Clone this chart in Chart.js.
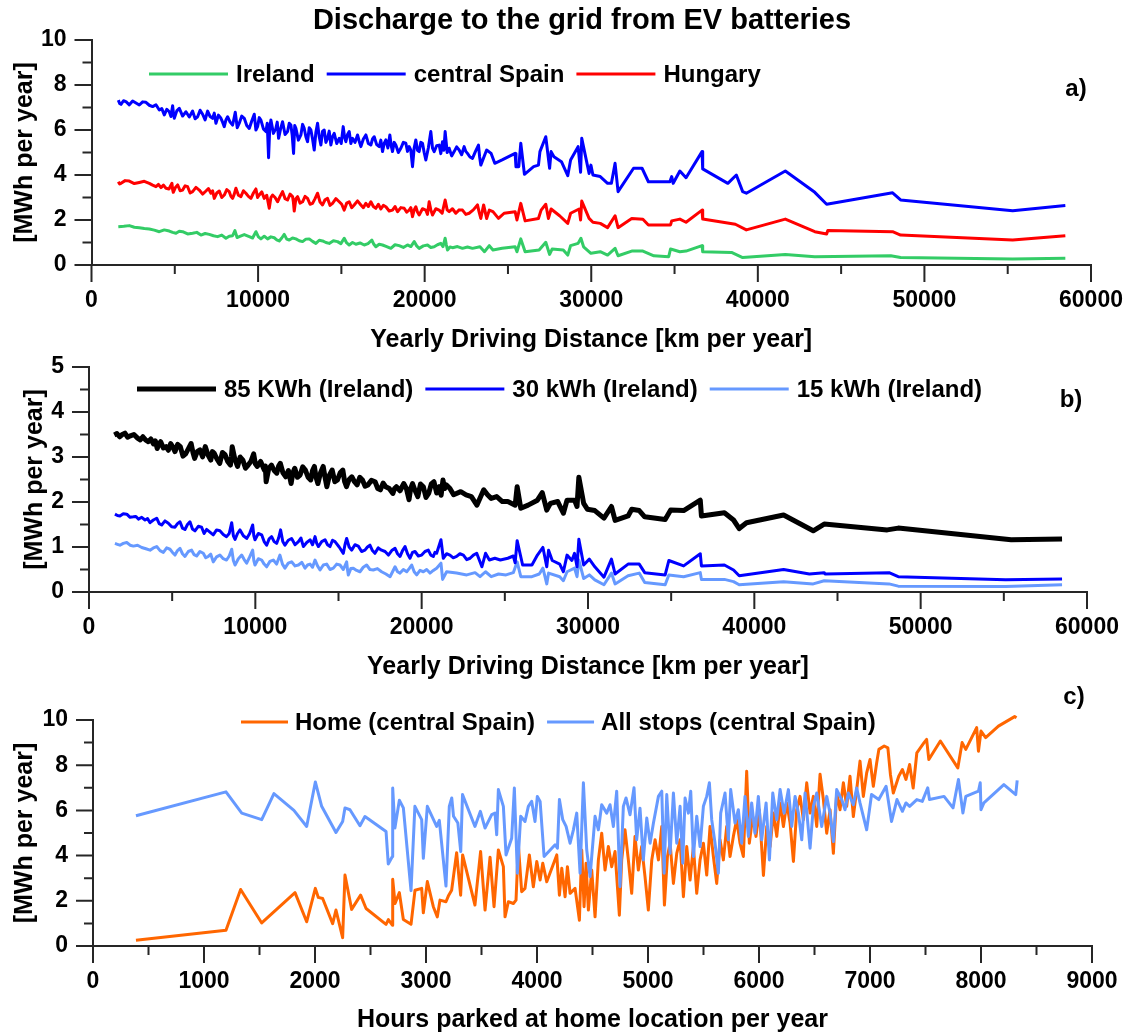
<!DOCTYPE html>
<html>
<head>
<meta charset="utf-8">
<title>Discharge to the grid from EV batteries</title>
<script src="https://cdn.jsdelivr.net/npm/chart.js@4.4.1/dist/chart.umd.min.js"></script>
<style>
  body { margin: 0; background: #fff; }
  #wrap { position: relative; width: 1128px; height: 1035px; overflow: hidden; }
  canvas { position: absolute; left: 0; }
</style>
</head>
<body>
<div id="wrap">
  <canvas id="panelA" width="1128" height="360" style="top:0px"></canvas>
  <canvas id="panelB" width="1128" height="345" style="top:345px"></canvas>
  <canvas id="panelC" width="1128" height="355" style="top:680px"></canvas>
</div>
<script>
// ---------- data ----------
const TITLE = "Discharge to the grid from EV batteries";
const DIST_TICKS  = [0, 10000, 20000, 30000, 40000, 50000, 60000];
const HOURS_TICKS = [0, 1000, 2000, 3000, 4000, 5000, 6000, 7000, 8000, 9000];
const MWH10_TICKS = [0, 2, 4, 6, 8, 10];
const MWH5_TICKS  = [0, 1, 2, 3, 4, 5];

// panel a) — [km per year, MWh per year]
const irelandA = [[1610,1.70],[1940,1.72],[2270,1.75],[2570,1.68],[2870,1.66],[3170,1.62],[3470,1.60],[3770,1.55],[4070,1.48],[4370,1.56],[4670,1.51],[4870,1.45],[5070,1.41],[5270,1.50],[5470,1.48],[5770,1.38],[6070,1.41],[6320,1.45],[6570,1.33],[6820,1.40],[7070,1.36],[7320,1.30],[7570,1.26],[7820,1.33],[8070,1.19],[8270,1.28],[8470,1.30],[8610,1.53],[8740,1.22],[8870,1.26],[9170,1.35],[9470,1.26],[9670,1.20],[9870,1.48],[10020,1.25],[10170,1.16],[10370,1.28],[10570,1.16],[10770,1.25],[10970,1.21],[11120,1.12],[11270,1.07],[11420,1.20],[11570,1.36],[11720,1.15],[11870,1.11],[12070,1.20],[12270,1.16],[12470,1.08],[12670,1.04],[12870,1.15],[13070,1.16],[13270,1.05],[13470,0.96],[13670,1.10],[13870,1.07],[14070,1.00],[14270,0.96],[14520,1.08],[14770,1.04],[14970,0.95],[15170,1.19],[15320,0.98],[15470,0.89],[15670,1.00],[15870,0.92],[16120,0.98],[16370,0.89],[16600,0.95],[16830,1.11],[16950,0.92],[17070,0.81],[17270,0.92],[17470,0.89],[17720,0.82],[17970,0.74],[18220,0.90],[18470,0.86],[18720,0.78],[18970,0.89],[19170,0.82],[19370,1.04],[19520,0.85],[19670,0.74],[19920,0.85],[20170,0.89],[20370,0.78],[20570,0.81],[20770,0.90],[20970,0.96],[21100,0.82],[21230,1.19],[21300,0.90],[21370,0.67],[21520,0.80],[21670,0.77],[21970,0.82],[22270,0.74],[22570,0.80],[22870,0.74],[23320,0.81],[23590,0.59],[23880,0.86],[24100,0.67],[24650,0.74],[25430,0.81],[25540,0.59],[25770,1.16],[26030,0.59],[26870,0.67],[27270,1.01],[27500,0.47],[27650,0.71],[28320,0.67],[28590,0.44],[28760,0.86],[29210,0.96],[29380,1.19],[29540,0.81],[29980,0.52],[30540,0.59],[30980,0.44],[31430,0.74],[31610,0.41],[32430,0.62],[33100,0.62],[33760,0.41],[34650,0.37],[34760,0.71],[35320,0.59],[35690,0.62],[36650,0.86],[36690,0.59],[38420,0.56],[39090,0.33],[41650,0.47],[43420,0.37],[47980,0.41],[48570,0.33],[55300,0.27],[58460,0.30]];

const spainA = [[1610,7.33],[1690,7.18],[1770,7.14],[1920,7.30],[2070,7.26],[2270,7.12],[2470,7.29],[2670,7.20],[2870,7.11],[3070,7.25],[3270,7.23],[3470,7.10],[3670,7.04],[3870,7.12],[4070,6.89],[4220,6.95],[4370,6.67],[4520,6.92],[4670,6.81],[4770,6.60],[4870,7.08],[4920,6.75],[4970,6.52],[5120,6.85],[5270,6.96],[5470,6.62],[5670,6.81],[5870,6.58],[6070,6.84],[6220,6.50],[6370,6.59],[6520,6.88],[6670,6.70],[6820,6.45],[6970,6.84],[7120,6.60],[7270,6.52],[7370,6.75],[7470,6.30],[7620,6.66],[7770,6.52],[7870,6.35],[7970,6.15],[8070,6.45],[8170,6.59],[8320,6.35],[8470,6.22],[8550,6.50],[8630,6.79],[8750,6.10],[8870,6.30],[9020,6.62],[9170,6.52],[9320,6.20],[9470,6.07],[9620,6.40],[9770,6.70],[9870,6.00],[9970,6.15],[10070,6.55],[10170,6.44],[10320,6.05],[10470,5.93],[10550,6.30],[10630,4.77],[10700,6.10],[10770,6.44],[10920,5.85],[11070,6.07],[11150,6.35],[11230,5.63],[11350,6.05],[11470,6.37],[11620,5.80],[11770,5.93],[11870,6.30],[11970,6.22],[12050,5.75],[12130,4.96],[12200,6.20],[12270,6.07],[12420,5.55],[12570,5.78],[12670,6.25],[12770,6.07],[12870,5.70],[12970,5.48],[13070,6.10],[13170,6.00],[13270,5.60],[13370,5.11],[13470,5.90],[13570,6.30],[13670,5.70],[13770,5.33],[13870,5.95],[13970,6.00],[14070,5.45],[14170,5.63],[14270,5.95],[14370,5.33],[14470,5.70],[14570,5.85],[14720,5.40],[14870,5.63],[14990,5.40],[15110,6.15],[15190,5.70],[15270,5.48],[15370,5.80],[15470,5.93],[15570,5.40],[15670,5.63],[15820,5.45],[15970,5.78],[16070,5.50],[16170,5.26],[16320,5.60],[16470,5.78],[16620,5.40],[16770,5.33],[16870,5.60],[16970,5.70],[17120,5.35],[17270,5.26],[17370,5.55],[17470,5.04],[17570,5.40],[17670,5.56],[17790,5.20],[17910,5.78],[17990,5.30],[18070,5.04],[18170,5.45],[18270,5.33],[18420,5.00],[18570,5.19],[18720,5.45],[18870,5.41],[18970,5.05],[19070,5.26],[19170,5.10],[19270,4.37],[19370,5.20],[19470,5.56],[19570,5.10],[19670,5.04],[19770,5.45],[19870,5.41],[19970,5.00],[20070,4.67],[20220,5.20],[20370,5.93],[20470,5.20],[20570,5.04],[20720,5.30],[20870,5.33],[20970,4.95],[21070,5.48],[21150,5.10],[21230,5.93],[21350,5.00],[21470,5.19],[21620,4.85],[21770,5.04],[21920,5.25],[22070,5.11],[22220,4.90],[22370,5.26],[22470,5.05],[22570,4.96],[22720,4.80],[22870,4.74],[23050,5.05],[23230,5.33],[23300,4.80],[23370,4.44],[23720,5.11],[23990,4.96],[24210,4.52],[24650,4.67],[25430,4.96],[25480,4.37],[25650,4.37],[25770,5.41],[25990,4.03],[26540,4.37],[26830,4.44],[26920,5.04],[27270,5.70],[27500,4.30],[27590,5.04],[27760,4.81],[28210,4.59],[28590,3.97],[28760,4.67],[29210,5.26],[29360,4.12],[29430,5.63],[29870,4.07],[29980,4.44],[30100,4.00],[30540,3.93],[30980,3.63],[31210,3.63],[31430,4.52],[31610,3.26],[32540,4.30],[33050,4.30],[33430,3.70],[34720,3.70],[34830,3.93],[34920,3.63],[35320,4.18],[35690,3.88],[36650,5.04],[36690,4.27],[38200,3.63],[38710,4.00],[39090,3.26],[39310,3.19],[41650,4.18],[43420,3.23],[44130,2.70],[48090,3.21],[48570,2.89],[55300,2.41],[58460,2.64]];

const hungaryA = [[1610,3.70],[1690,3.60],[1770,3.63],[2020,3.75],[2270,3.73],[2570,3.62],[2870,3.67],[3170,3.72],[3470,3.63],[3670,3.55],[3870,3.48],[4020,3.58],[4170,3.44],[4320,3.55],[4470,3.41],[4650,3.38],[4830,3.63],[4870,3.35],[4910,3.23],[5040,3.45],[5170,3.56],[5320,3.30],[5470,3.33],[5620,3.52],[5770,3.48],[5920,3.20],[6070,3.26],[6270,3.45],[6470,3.33],[6670,3.15],[6870,3.29],[7020,3.40],[7170,3.19],[7270,3.30],[7370,2.96],[7520,3.20],[7670,3.29],[7820,3.00],[7970,3.11],[8120,3.35],[8270,3.26],[8370,3.05],[8470,2.96],[8570,3.15],[8670,3.41],[8820,3.10],[8970,3.04],[9120,3.30],[9270,3.19],[9420,3.05],[9570,2.96],[9720,3.20],[9870,3.38],[9970,3.00],[10070,3.11],[10220,3.25],[10370,2.96],[10520,3.10],[10670,2.52],[10770,3.00],[10870,3.11],[11020,3.00],[11170,2.81],[11320,3.05],[11470,3.26],[11620,2.95],[11770,2.89],[11920,3.15],[12070,3.04],[12120,2.80],[12170,2.40],[12270,2.95],[12370,3.04],[12520,2.75],[12670,2.81],[12820,3.05],[12970,2.96],[13120,2.70],[13270,2.74],[13420,2.95],[13570,3.19],[13720,2.80],[13870,2.67],[14020,2.90],[14170,2.96],[14320,2.65],[14470,2.74],[14670,2.95],[14870,2.81],[15020,2.70],[15170,2.44],[15320,2.75],[15470,2.81],[15620,2.55],[15770,2.67],[15970,2.85],[16170,2.67],[16320,2.55],[16470,2.74],[16620,2.60],[16770,2.81],[16920,2.60],[17070,2.52],[17220,2.70],[17370,2.49],[17520,2.65],[17670,2.59],[17870,2.40],[18070,2.44],[18220,2.60],[18370,2.37],[18570,2.55],[18770,2.52],[18920,2.35],[19070,2.44],[19170,2.55],[19270,2.15],[19370,2.45],[19470,2.59],[19570,2.35],[19670,2.22],[19870,2.50],[20070,2.44],[20170,2.25],[20270,2.81],[20370,2.45],[20470,2.22],[20670,2.50],[20870,2.44],[21050,2.30],[21230,2.89],[21350,2.45],[21470,2.37],[21670,2.50],[21870,2.30],[22070,2.45],[22270,2.44],[22470,2.25],[22670,2.30],[22920,2.45],[23170,2.67],[23270,2.35],[23370,2.07],[23540,2.67],[23720,2.07],[23880,2.44],[24100,2.37],[24430,2.07],[24770,2.30],[25430,2.37],[25540,2.00],[25770,2.74],[26030,1.96],[26830,2.07],[26990,2.44],[27270,2.70],[27430,2.07],[27590,2.49],[28100,2.19],[28590,1.85],[28760,2.30],[29270,2.49],[29360,2.00],[29430,2.84],[29870,2.07],[30100,1.90],[30540,1.85],[30980,1.66],[31430,2.19],[31610,1.66],[32430,2.07],[33100,2.03],[33430,1.78],[34760,1.78],[34830,1.96],[35320,2.04],[35690,1.90],[36650,2.44],[36690,2.04],[38650,1.81],[39310,1.56],[41650,2.04],[43420,1.48],[44130,1.38],[44200,1.53],[48090,1.48],[48570,1.33],[55300,1.11],[58460,1.30]];

// panel b) — battery sizes, Ireland
const kwh85B = [[1520,3.49],[1680,3.52],[1840,3.45],[2000,3.50],[2160,3.53],[2320,3.44],[2490,3.47],[2700,3.50],[2920,3.42],[3080,3.38],[3240,3.45],[3400,3.38],[3560,3.34],[3720,3.40],[3880,3.29],[3990,3.36],[4100,3.19],[4200,3.28],[4310,3.34],[4470,3.20],[4630,3.23],[4770,3.15],[4910,3.30],[5040,3.22],[5170,3.12],[5330,3.28],[5490,3.23],[5650,3.02],[5810,3.07],[5970,3.18],[6140,3.30],[6250,3.10],[6350,2.97],[6510,3.12],[6670,3.16],[6830,3.00],[6990,3.23],[7150,3.05],[7320,2.93],[7420,3.12],[7530,3.08],[7700,2.95],[7860,2.86],[8020,3.10],[8180,3.05],[8340,2.90],[8500,2.82],[8560,3.00],[8610,3.23],[8770,2.95],[8930,2.79],[9090,3.00],[9250,2.93],[9410,2.75],[9570,2.82],[9730,2.90],[9900,3.07],[10000,2.85],[10110,2.79],[10320,2.90],[10540,2.71],[10600,2.80],[10650,2.45],[10810,2.75],[10970,2.82],[11130,2.70],[11290,2.64],[11400,2.80],[11500,2.86],[11660,2.65],[11830,2.56],[11990,2.70],[12150,2.41],[12260,2.65],[12370,2.75],[12530,2.55],[12690,2.60],[12850,2.78],[13010,2.71],[13170,2.55],[13330,2.49],[13440,2.70],[13550,2.79],[13650,2.55],[13760,2.41],[13920,2.65],[14080,2.79],[14190,2.55],[14300,2.34],[14460,2.60],[14620,2.71],[14780,2.45],[14940,2.49],[15100,2.65],[15260,2.71],[15370,2.45],[15480,2.34],[15640,2.50],[15800,2.56],[15960,2.45],[16120,2.38],[16280,2.55],[16440,2.49],[16600,2.35],[16770,2.38],[16980,2.48],[17200,2.45],[17360,2.30],[17520,2.27],[17680,2.42],[17840,2.34],[18050,2.30],[18270,2.19],[18370,2.30],[18480,2.34],[18700,2.25],[18920,2.41],[19080,2.30],[19240,2.05],[19340,2.30],[19450,2.41],[19610,2.25],[19770,2.12],[19930,2.40],[20100,2.34],[20260,2.10],[20420,2.19],[20580,2.40],[20740,2.45],[20900,2.20],[21060,2.34],[21170,2.15],[21280,2.49],[21380,2.30],[21490,2.38],[21700,2.30],[21920,2.16],[22350,2.23],[22670,2.16],[22990,2.12],[23320,1.93],[23730,2.27],[23960,2.16],[24180,2.08],[24510,2.12],[24850,2.01],[25180,2.01],[25620,1.93],[25740,2.34],[25960,1.86],[26400,1.93],[26960,2.04],[27250,2.21],[27520,1.82],[27740,1.97],[28180,2.01],[28520,1.75],[28740,2.04],[29190,2.04],[29340,1.90],[29450,2.55],[29740,1.97],[29960,1.84],[30410,1.81],[30960,1.64],[31410,1.90],[31630,1.59],[32410,1.69],[32630,1.84],[33080,1.81],[33410,1.67],[34640,1.61],[34970,1.82],[35750,1.81],[36750,2.04],[36820,1.69],[38200,1.76],[38750,1.60],[39090,1.41],[39530,1.54],[41760,1.71],[43540,1.36],[44200,1.51],[47990,1.38],[48650,1.42],[55440,1.16],[58500,1.18]];

const kwh30B = [[1560,1.73],[1710,1.70],[1860,1.69],[2060,1.74],[2270,1.73],[2470,1.66],[2670,1.67],[2820,1.68],[2970,1.62],[3170,1.66],[3370,1.60],[3520,1.63],[3670,1.54],[3870,1.60],[4070,1.64],[4220,1.52],[4370,1.49],[4570,1.58],[4770,1.53],[4970,1.45],[5170,1.44],[5320,1.52],[5470,1.56],[5620,1.42],[5770,1.39],[5920,1.50],[6070,1.56],[6220,1.40],[6370,1.36],[6570,1.46],[6770,1.44],[6920,1.30],[7070,1.39],[7270,1.33],[7470,1.27],[7670,1.38],[7870,1.36],[8070,1.28],[8270,1.23],[8430,1.30],[8580,1.54],[8680,1.25],[8780,1.17],[8930,1.30],[9080,1.38],[9280,1.25],[9480,1.19],[9660,1.30],[9840,1.49],[9910,1.25],[9980,1.16],[10180,1.30],[10380,1.27],[10530,1.12],[10680,1.04],[10830,1.18],[10980,1.23],[11130,1.12],[11280,1.08],[11400,1.20],[11520,1.38],[11650,1.12],[11780,1.04],[11980,1.15],[12180,1.19],[12390,1.05],[12590,1.12],[12740,1.20],[12890,1.01],[13090,1.10],[13290,1.16],[13440,1.05],[13590,1.23],[13690,1.08],[13790,1.01],[13990,1.12],[14190,1.16],[14340,1.05],[14490,1.01],[14640,1.15],[14790,1.12],[15040,1.00],[15290,0.86],[15390,1.05],[15490,1.19],[15640,1.00],[15790,0.93],[15990,1.05],[16190,1.02],[16390,0.90],[16590,0.93],[16740,1.00],[16890,1.04],[17040,0.92],[17190,0.86],[17390,0.98],[17590,0.93],[17800,0.90],[18000,0.82],[18200,0.92],[18400,0.97],[18550,0.85],[18700,0.79],[18850,0.92],[19000,1.01],[19150,0.85],[19300,0.75],[19450,0.88],[19600,0.90],[19800,0.80],[20000,0.82],[20200,0.90],[20400,0.93],[20550,0.82],[20700,0.79],[20800,0.88],[20900,0.86],[21160,1.16],[21300,0.75],[21500,0.85],[21700,0.82],[21900,0.76],[22100,0.79],[22300,0.85],[22510,0.82],[22710,0.72],[22910,0.75],[23110,0.82],[23310,0.86],[23620,0.56],[23840,0.86],[24070,0.71],[24400,0.75],[24730,0.71],[25180,0.75],[25510,0.80],[25620,0.65],[25740,1.14],[26070,0.60],[26630,0.60],[26960,0.82],[27290,0.99],[27520,0.56],[27630,0.93],[27850,0.70],[28300,0.62],[28520,0.45],[28740,0.82],[29030,0.70],[29190,0.86],[29340,0.56],[29450,1.17],[29740,0.60],[30080,0.73],[30410,0.56],[30960,0.33],[31410,0.73],[31630,0.40],[32410,0.62],[33080,0.62],[33410,0.43],[34640,0.38],[34860,0.70],[35750,0.58],[36750,0.85],[36820,0.58],[38200,0.60],[38750,0.49],[39090,0.36],[41760,0.50],[43310,0.40],[44200,0.43],[44250,0.40],[48100,0.43],[48650,0.34],[55110,0.27],[58500,0.29]];

const kwh15B = [[1560,1.08],[1710,1.06],[1860,1.04],[2060,1.08],[2270,1.10],[2470,1.04],[2670,1.02],[2920,1.04],[3170,0.99],[3420,0.96],[3670,0.93],[3870,0.98],[4070,1.01],[4270,0.92],[4470,0.88],[4670,0.98],[4870,0.95],[5020,0.88],[5170,0.82],[5320,0.92],[5470,0.97],[5620,0.85],[5770,0.79],[5970,0.90],[6170,0.93],[6320,0.83],[6470,0.80],[6670,0.90],[6870,0.86],[7020,0.76],[7170,0.79],[7320,0.84],[7470,0.67],[7670,0.78],[7870,0.82],[8070,0.74],[8270,0.71],[8430,0.80],[8580,0.95],[8680,0.70],[8780,0.60],[8980,0.74],[9180,0.82],[9330,0.72],[9480,0.64],[9660,0.78],[9840,0.93],[9910,0.70],[9980,0.60],[10180,0.74],[10380,0.71],[10530,0.62],[10680,0.56],[10880,0.68],[11080,0.71],[11280,0.62],[11480,0.82],[11630,0.62],[11780,0.53],[11980,0.64],[12180,0.67],[12390,0.58],[12590,0.60],[12790,0.66],[12990,0.53],[13140,0.60],[13290,0.62],[13440,0.55],[13590,0.71],[13740,0.58],[13890,0.49],[14090,0.60],[14290,0.62],[14490,0.50],[14690,0.53],[14890,0.62],[15090,0.60],[15290,0.50],[15490,0.67],[15540,0.50],[15590,0.38],[15740,0.52],[15890,0.53],[16090,0.48],[16290,0.45],[16490,0.55],[16690,0.60],[16890,0.50],[17090,0.49],[17340,0.52],[17590,0.45],[17850,0.40],[18100,0.34],[18250,0.45],[18400,0.56],[18550,0.45],[18700,0.42],[18900,0.50],[19100,0.45],[19250,0.52],[19400,0.60],[19550,0.45],[19700,0.38],[19900,0.48],[20100,0.45],[20300,0.50],[20500,0.42],[20700,0.48],[20900,0.53],[21160,0.64],[21260,0.28],[21500,0.45],[22100,0.42],[22710,0.38],[23210,0.43],[23510,0.34],[23840,0.45],[24180,0.34],[24620,0.40],[25070,0.38],[25510,0.43],[25740,0.67],[25960,0.34],[26630,0.34],[27070,0.40],[27290,0.53],[27520,0.18],[27630,0.42],[28300,0.34],[28520,0.25],[28740,0.45],[29190,0.53],[29340,0.34],[29450,0.71],[29740,0.30],[30080,0.38],[30410,0.27],[30960,0.16],[31410,0.42],[31630,0.18],[32410,0.36],[33080,0.42],[33410,0.21],[34640,0.16],[34860,0.38],[35750,0.34],[36750,0.43],[36820,0.28],[38200,0.28],[38750,0.23],[39090,0.16],[41760,0.23],[43540,0.18],[44200,0.25],[48100,0.18],[48650,0.13],[55110,0.12],[58500,0.16]];

// panel c) — [hours parked at home per year, MWh per year], central Spain
const homeC = [[387,0.25],[1198,0.70],[1330,2.50],[1520,1.02],[1820,2.36],[1925,1.07],[2003,2.55],[2030,2.15],[2069,2.10],[2159,0.99],[2189,1.59],[2249,0.37],[2270,3.14],[2330,1.62],[2411,2.25],[2460,1.66],[2640,0.96],[2661,1.17],[2697,0.92],[2700,2.95],[2721,1.88],[2760,2.36],[2796,1.17],[2865,0.96],[2901,2.47],[2961,2.55],[2976,1.47],[3012,2.85],[3066,1.74],[3102,1.29],[3126,2.03],[3180,1.96],[3201,2.21],[3231,2.47],[3276,4.13],[3312,2.25],[3330,4.03],[3441,1.81],[3492,4.18],[3532,1.59],[3577,3.93],[3613,1.74],[3652,4.25],[3697,3.51],[3712,1.29],[3742,1.96],[3787,1.88],[3811,2.03],[3832,4.48],[3862,2.40],[3892,2.55],[3931,4.03],[3967,2.62],[3998,3.74],[4028,2.92],[4052,3.66],[4088,2.84],[4178,4.03],[4202,2.25],[4223,3.44],[4253,2.18],[4274,3.51],[4298,2.33],[4343,2.55],[4382,1.14],[4403,4.25],[4424,1.74],[4442,3.66],[4463,1.59],[4493,3.36],[4523,1.29],[4553,3.81],[4583,4.99],[4613,3.36],[4643,4.40],[4673,3.51],[4703,4.18],[4742,1.36],[4763,3.81],[4793,5.14],[4823,3.81],[4853,2.33],[4883,4.85],[4913,3.36],[4943,4.40],[4973,3.07],[5003,1.59],[5034,3.81],[5064,4.70],[5094,3.81],[5124,5.29],[5148,1.81],[5175,3.96],[5199,4.55],[5229,2.77],[5259,4.10],[5289,4.70],[5319,2.18],[5349,4.40],[5379,2.92],[5409,4.40],[5439,2.33],[5469,3.81],[5499,4.55],[5529,3.14],[5559,5.29],[5589,3.96],[5619,2.77],[5649,4.70],[5679,3.81],[5709,5.29],[5739,3.96],[5769,4.85],[5799,5.59],[5829,4.55],[5859,3.96],[5889,7.73],[5913,4.55],[5943,5.73],[5973,4.85],[6003,6.03],[6040,3.12],[6070,5.29],[6100,4.40],[6130,5.88],[6160,4.85],[6190,6.33],[6220,5.29],[6250,6.33],[6280,5.44],[6310,3.74],[6340,6.03],[6370,6.62],[6400,5.59],[6430,7.22],[6460,5.88],[6490,6.62],[6520,5.29],[6550,7.60],[6580,6.48],[6610,4.99],[6640,6.03],[6670,4.10],[6700,6.77],[6730,6.03],[6760,7.22],[6790,6.18],[6820,7.51],[6850,5.73],[6880,6.92],[6910,8.18],[6940,6.62],[6970,7.66],[7000,8.25],[7030,7.07],[7060,8.10],[7080,8.70],[7128,8.85],[7161,8.77],[7184,7.59],[7210,6.77],[7259,7.51],[7292,7.81],[7324,7.37],[7357,8.03],[7389,6.99],[7422,8.55],[7487,9.00],[7510,9.14],[7530,8.25],[7634,9.07],[7791,7.88],[7830,9.00],[7863,8.70],[7961,9.66],[7977,8.62],[8000,9.51],[8042,9.22],[8157,9.73],[8303,10.15],[8320,10.10]];

const allStopsC = [[387,5.76],[1198,6.82],[1340,5.88],[1520,5.59],[1630,6.74],[1810,6.00],[1925,5.29],[2003,7.26],[2060,6.18],[2189,5.02],[2249,5.51],[2270,6.11],[2315,6.03],[2405,5.32],[2450,5.73],[2640,5.07],[2660,3.63],[2697,3.96],[2700,6.99],[2720,5.22],[2760,6.45],[2796,6.11],[2865,2.45],[2900,6.18],[2961,5.59],[2976,3.88],[3012,6.18],[3096,5.29],[3120,5.56],[3180,2.65],[3210,6.18],[3232,6.55],[3248,5.74],[3287,5.44],[3313,4.18],[3329,6.70],[3441,5.29],[3490,5.96],[3532,5.22],[3592,5.81],[3622,5.88],[3637,4.92],[3652,6.92],[3697,6.18],[3721,4.03],[3772,4.77],[3796,6.99],[3823,3.22],[3853,5.74],[3892,5.51],[3922,6.18],[3952,6.40],[3982,5.51],[4003,6.62],[4028,6.40],[4064,3.96],[4163,4.48],[4184,4.33],[4202,6.48],[4232,5.59],[4262,5.29],[4298,4.55],[4328,5.14],[4358,5.88],[4388,3.22],[4418,7.22],[4448,4.25],[4478,3.07],[4523,5.74],[4553,5.14],[4583,6.25],[4628,5.88],[4658,6.25],[4688,5.29],[4718,6.85],[4748,2.62],[4778,6.18],[4802,6.55],[4838,5.81],[4874,7.00],[4898,4.70],[4928,6.10],[4958,3.81],[4989,5.66],[5019,4.55],[5049,5.44],[5094,6.62],[5124,6.85],[5145,3.22],[5169,6.70],[5199,4.10],[5229,6.77],[5259,4.55],[5289,6.18],[5313,3.66],[5334,6.55],[5364,5.88],[5385,6.85],[5409,3.96],[5439,5.74],[5469,4.40],[5499,6.18],[5529,6.62],[5553,7.22],[5574,5.59],[5604,4.55],[5634,3.22],[5655,5.88],[5694,6.77],[5724,4.70],[5745,6.92],[5784,5.44],[5814,6.03],[5844,4.55],[5874,6.62],[5904,4.85],[5934,6.33],[5964,4.99],[5994,6.62],[6024,4.70],[6064,6.33],[6094,3.81],[6124,6.77],[6160,5.59],[6190,6.92],[6226,5.88],[6265,6.92],[6295,5.29],[6325,6.62],[6355,5.88],[6385,4.70],[6415,6.77],[6460,4.33],[6490,6.18],[6520,6.77],[6565,5.29],[6610,6.62],[6640,5.88],[6670,4.62],[6700,6.92],[6745,6.48],[6775,6.03],[6805,6.77],[6850,6.25],[6880,6.99],[6910,6.33],[6970,5.14],[7014,6.70],[7079,6.48],[7145,7.07],[7194,5.51],[7243,6.48],[7292,5.96],[7324,6.33],[7357,6.18],[7422,6.48],[7471,6.40],[7520,7.00],[7536,6.48],[7667,6.62],[7748,6.11],[7797,7.37],[7837,5.88],[7863,6.62],[7977,6.85],[7993,7.22],[8000,6.03],[8026,6.33],[8206,7.14],[8313,6.70],[8326,7.33]];

// ---------- look ----------
const FONT = "'Liberation Sans', Arial, Helvetica, sans-serif";
const AXIS = "#262626";
const MAJOR = 17, MINOR = 9;

// minor/major tick marks drawn outward from the axes
const axisTicks = {
  id: "axisTicks",
  afterDraw(chart) {
    const { ctx, chartArea: a, scales: { x, y } } = chart;
    ctx.save();
    ctx.strokeStyle = AXIS;
    ctx.lineWidth = 2;
    ctx.beginPath();
    const xt = x.ticks.map(t => t.value);
    xt.forEach((v, i) => {
      const px = x.getPixelForValue(v);
      ctx.moveTo(px, a.bottom); ctx.lineTo(px, a.bottom + MAJOR);
      if (i < xt.length - 1) {
        const pm = x.getPixelForValue((v + xt[i + 1]) / 2);
        ctx.moveTo(pm, a.bottom); ctx.lineTo(pm, a.bottom + MINOR);
      }
    });
    const yt = y.ticks.map(t => t.value);
    yt.forEach((v, i) => {
      const py = y.getPixelForValue(v);
      ctx.moveTo(a.left, py); ctx.lineTo(a.left - MAJOR, py);
      if (i < yt.length - 1) {
        const pm = y.getPixelForValue((v + yt[i + 1]) / 2);
        ctx.moveTo(a.left, pm); ctx.lineTo(a.left - MINOR, pm);
      }
    });
    ctx.stroke();
    ctx.restore();
  }
};

// legend inside the plot, panel tag "a)" etc, and the figure title
const panelText = {
  id: "panelText",
  afterDraw(chart, args, o) {
    const { ctx } = chart;
    ctx.save();
    ctx.fillStyle = "#000";
    ctx.textBaseline = "middle";
    ctx.font = "bold " + o.legendSize + "px " + FONT;
    let x = o.legendX;
    chart.data.datasets.forEach(ds => {
      ctx.strokeStyle = ds.borderColor;
      ctx.lineWidth = ds.borderWidth;
      ctx.beginPath();
      ctx.moveTo(x, o.legendY); ctx.lineTo(x + o.lineLen, o.legendY);
      ctx.stroke();
      x += o.lineLen + o.gap;
      ctx.textAlign = "left";
      ctx.fillText(ds.label, x, o.legendY + 1);
      x += ctx.measureText(ds.label).width + o.space;
    });
    ctx.font = "bold 24px " + FONT;
    ctx.textAlign = "center";
    ctx.fillText(o.tag, o.tagX, o.tagY);
    if (o.title) {
      ctx.font = "bold 29px " + FONT;
      ctx.fillText(o.title, o.titleX, o.titleY);
    }
    ctx.restore();
  }
};

function panel(id, p) {
  const tickFont = { family: FONT, size: 23, weight: "bold" };
  const titleFont = { family: FONT, size: 25, weight: "bold" };
  return new Chart(document.getElementById(id), {
    type: "line",
    data: {
      datasets: p.series.map(s => ({
        label: s.label,
        data: s.points.map(([x, y]) => ({ x, y })),
        borderColor: s.color,
        borderWidth: s.width || 3,
        pointRadius: 0,
        tension: 0,
        order: s.order || 0,
        clip: 6,
        borderJoinStyle: "round",
      })),
    },
    options: {
      responsive: false,
      animation: false,
      events: [],
      layout: { padding: { top: p.top, right: p.right, left: 0, bottom: 0 } },
      plugins: {
        legend: { display: false },
        tooltip: { enabled: false },
        panelText: p.text,
      },
      scales: {
        x: {
          type: "linear",
          min: p.xTicks[0],
          max: p.xTicks[p.xTicks.length - 1],
          afterBuildTicks: s => { s.ticks = p.xTicks.map(v => ({ value: v })); },
          afterFit: s => { s.height = p.xHeight; },
          grid: { display: false, drawTicks: true, tickLength: MAJOR },
          border: { color: AXIS, width: 2 },
          ticks: { font: tickFont, color: "#000", padding: 5, maxRotation: 0, autoSkip: false,
                   callback: v => String(v) },
          title: { display: true, text: p.xTitle, font: titleFont, color: "#000", padding: { top: 0, bottom: p.xTitlePad } },
        },
        y: {
          type: "linear",
          min: p.yTicks[0],
          max: p.yTicks[p.yTicks.length - 1],
          afterBuildTicks: s => { s.ticks = p.yTicks.map(v => ({ value: v })); },
          afterFit: s => { s.width = p.yWidth; },
          grid: { display: false, drawTicks: true, tickLength: MAJOR },
          border: { color: AXIS, width: 2 },
          ticks: { font: tickFont, color: "#000", padding: 8, autoSkip: false, callback: v => String(v) },
          title: { display: true, text: "[MWh per year]", font: titleFont, color: "#000", padding: { top: p.yTitlePad, bottom: 0 } },
        },
      },
    },
    plugins: [axisTicks, panelText],
  });
}

panel("panelA", {
  top: 40, right: 37, yWidth: 91.5, xHeight: 95,
  xTicks: DIST_TICKS, yTicks: MWH10_TICKS,
  xTitle: "Yearly Driving Distance [km per year]", xTitlePad: 5, yTitlePad: 10,
  series: [
    { label: "Ireland", points: irelandA, color: "#33cc66" },
    { label: "central Spain", points: spainA, color: "#0000ff" },
    { label: "Hungary", points: hungaryA, color: "#ff0000" },
  ],
  text: { legendX: 149, legendY: 74, legendSize: 24, lineLen: 79, gap: 8, space: 12,
          tag: "a)", tagX: 1076, tagY: 89, title: TITLE, titleX: 582, titleY: 21 },
});

panel("panelB", {
  top: 22, right: 41, yWidth: 89, xHeight: 98,
  xTicks: DIST_TICKS, yTicks: MWH5_TICKS,
  xTitle: "Yearly Driving Distance [km per year]", xTitlePad: 8, yTitlePad: 20,
  series: [
    { label: "85 KWh (Ireland)", points: kwh85B, color: "#000000", width: 5 },
    { label: "30 kWh (Ireland)", points: kwh30B, color: "#0000ff" },
    { label: "15 kWh (Ireland)", points: kwh15B, color: "#6699ff" },
  ],
  text: { legendX: 137, legendY: 44, legendSize: 24, lineLen: 79, gap: 8, space: 12,
          tag: "b)", tagX: 1071, tagY: 55 },
});

panel("panelC", {
  top: 40, right: 36, yWidth: 93, xHeight: 89,
  xTicks: HOURS_TICKS, yTicks: MWH10_TICKS,
  xTitle: "Hours parked at home location per year", xTitlePad: 0, yTitlePad: 10,
  series: [
    { label: "Home (central Spain)", points: homeC, color: "#ff6600", order: 1 },
    { label: "All stops (central Spain)", points: allStopsC, color: "#6699ff", order: 0 },
  ],
  text: { legendX: 241, legendY: 42, legendSize: 24, lineLen: 47, gap: 7, space: 12,
          tag: "c)", tagX: 1074, tagY: 17 },
});
</script>
</body>
</html>
